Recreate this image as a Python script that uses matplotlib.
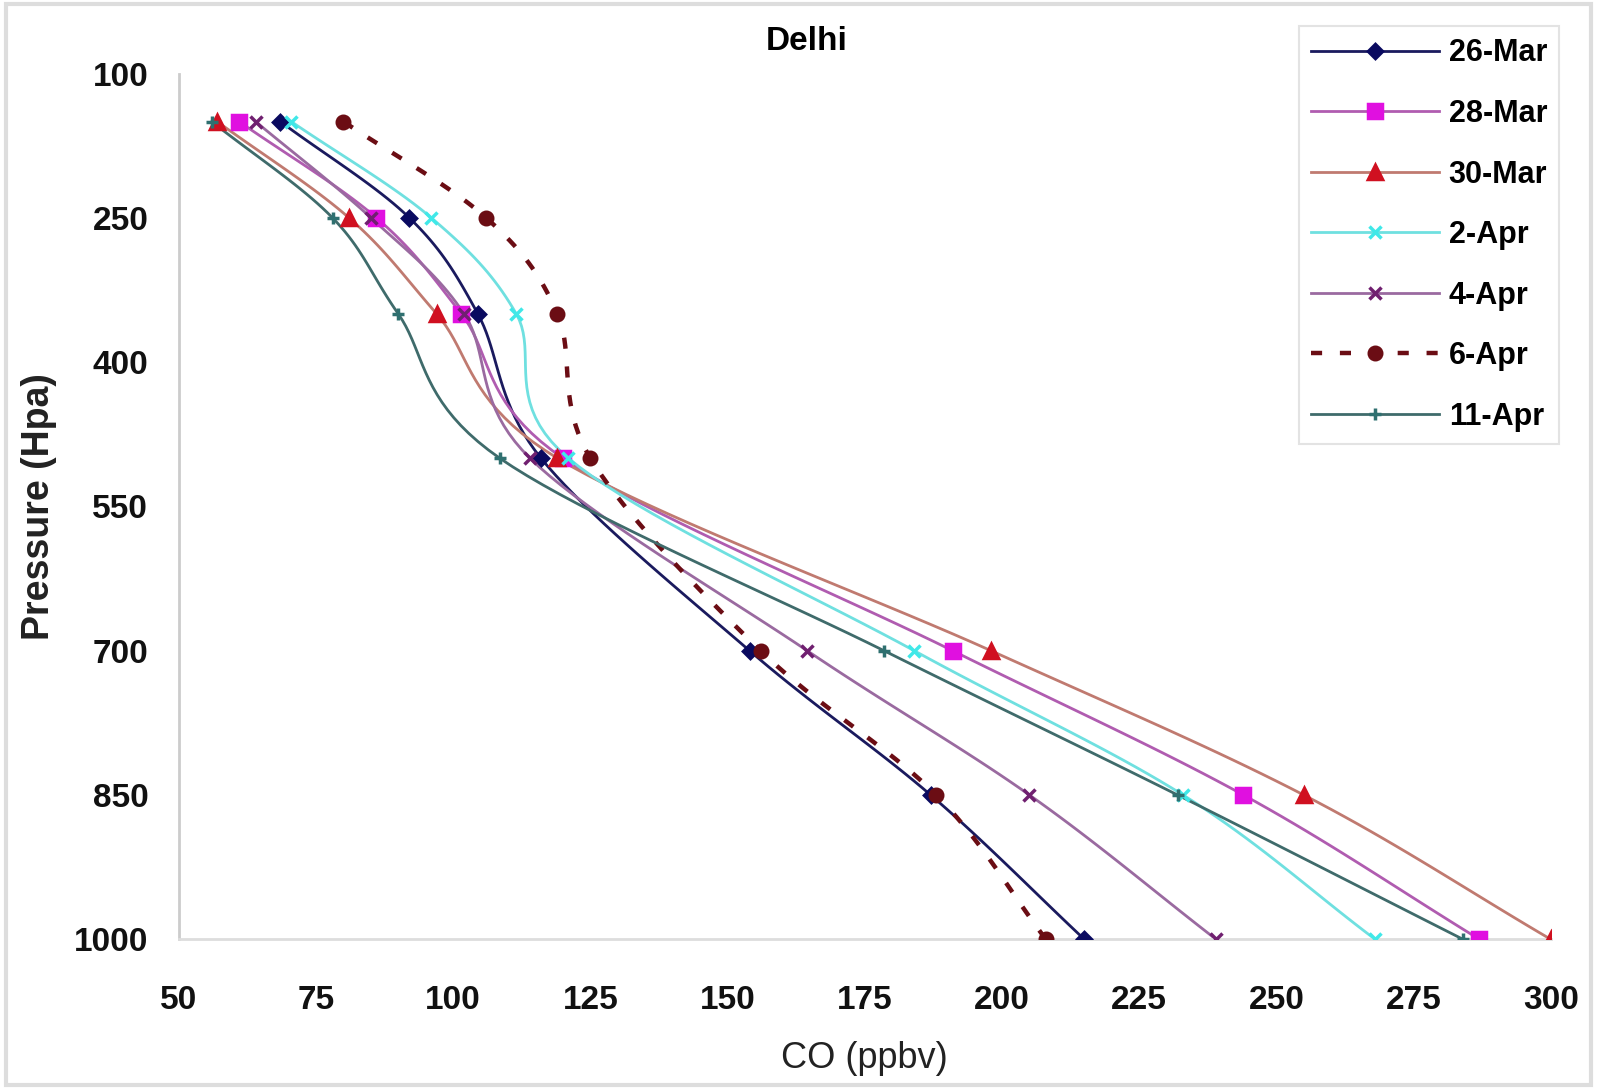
import numpy as np
import matplotlib
matplotlib.use("Agg")
import matplotlib.pyplot as plt

plt.rcParams['font.family'] = ['Liberation Sans Narrow', 'Liberation Sans', 'DejaVu Sans']

# pressure levels (hPa) and CO profiles (ppbv)
pressure = [150, 250, 350, 500, 700, 850, 1000]
labels = ["26-Mar", "28-Mar", "30-Mar", "2-Apr", "4-Apr", "6-Apr", "11-Apr"]
co_26mar = [68.5, 92, 104.5, 116, 154, 187, 215]
co_28mar = [61, 86, 101.5, 120, 191, 244, 287]
co_30mar = [57, 81, 97, 119, 198, 255, 300]
co_2apr = [70.5, 96, 111.5, 121, 184, 233, 268]
co_4apr = [64, 85, 102, 114, 164.5, 205, 239]
co_6apr = [80, 106, 119, 125, 156, 188, 208]
co_11apr = [56, 78, 90, 108.5, 178.5, 232, 284]

series = [co_26mar, co_28mar, co_30mar, co_2apr, co_4apr, co_6apr, co_11apr]
line_colors = ["#1a1a5e", "#b05cb0", "#c07a70", "#6fe0e0", "#9a6aa0", "#6b0d14", "#3f6b6b"]
marker_colors = ["#0a0a60", "#e010e0", "#d01020", "#40e8e8", "#702070", "#6b0d14", "#2f7070"]
markers = ["D", "s", "^", "x", "x", "o", "+"]
msizes = [7, 10, 10, 8, 9, 9, 9]


def smooth(x, y, n=20):
    # Catmull-Rom spline through the points, like Excel's smoothed line
    x = np.asarray(x, float)
    y = np.asarray(y, float)
    px = np.concatenate([[2 * x[0] - x[1]], x, [2 * x[-1] - x[-2]]])
    py = np.concatenate([[2 * y[0] - y[1]], y, [2 * y[-1] - y[-2]]])
    xs, ys = [], []
    t = np.linspace(0, 1, n, endpoint=False)
    for i in range(1, len(px) - 2):
        for arr, out in ((px, xs), (py, ys)):
            p0, p1, p2, p3 = arr[i - 1], arr[i], arr[i + 1], arr[i + 2]
            out.extend(0.5 * (2 * p1 + (-p0 + p2) * t
                              + (2 * p0 - 5 * p1 + 4 * p2 - p3) * t ** 2
                              + (-p0 + 3 * p1 - 3 * p2 + p3) * t ** 3))
    xs.append(x[-1])
    ys.append(y[-1])
    return np.array(xs), np.array(ys)


fig = plt.figure(figsize=(15.97, 10.89), dpi=100)
ax = fig.add_axes([0.112, 0.1375, 0.859, 0.795])

handles = []
for i, co in enumerate(series):
    sx, sy = smooth(co, pressure)
    ls = (0, (2.5, 4)) if labels[i] == "6-Apr" else "-"
    lw = 3.2 if labels[i] == "6-Apr" else 2.0
    ax.plot(sx, sy, color=line_colors[i], lw=lw, ls=ls, zorder=2)
    ax.plot(co, pressure, ls="none", marker=markers[i], ms=msizes[i],
            color=marker_colors[i], mec=marker_colors[i], mew=2.5, zorder=3)
    h, = ax.plot([], [], color=line_colors[i], lw=lw, ls=ls, marker=markers[i],
                 ms=msizes[i], mfc=marker_colors[i], mec=marker_colors[i], mew=2.5)
    handles.append(h)

ax.set_xlim(50, 300)
ax.set_ylim(1000, 100)
ax.set_xticks(np.arange(50, 301, 25))
ax.set_yticks(np.arange(100, 1001, 150))
ax.tick_params(axis="both", labelsize=24, length=0, colors="#bbbbbb")
for lab in ax.get_xticklabels() + ax.get_yticklabels():
    lab.set_fontweight("bold")
    lab.set_color("#111111")
ax.tick_params(axis="y", pad=22)
ax.tick_params(axis="x", pad=33)

for s in ["top", "right"]:
    ax.spines[s].set_visible(False)
ax.spines["left"].set_color("#cccccc")
ax.spines["bottom"].set_color("#dddddd")
ax.spines["left"].set_linewidth(2)
ax.spines["bottom"].set_linewidth(2)

ax.set_xlabel("CO (ppbv)", fontsize=26, labelpad=18, color="#222222")
ax.set_ylabel("Pressure (Hpa)", fontsize=27, fontweight="bold", labelpad=12, color="#222222")
fig.text(0.505, 0.962, "Delhi", ha="center", va="center", fontsize=24, fontweight="bold")

leg = fig.legend(handles=handles, labels=labels, loc="upper right",
                 bbox_to_anchor=(0.986, 0.99), fontsize=22, frameon=True,
                 fancybox=False, edgecolor="#dddddd", handlelength=4.2,
                 labelspacing=1.0, borderpad=0.4, handletextpad=0.3)
for t in leg.get_texts():
    t.set_fontweight("bold")
leg.get_frame().set_linewidth(1.5)

fig.patches.append(plt.Rectangle((0.004, 0.004), 0.992, 0.992, transform=fig.transFigure,
                                 fill=False, edgecolor="#dddddd", lw=3))

fig.savefig("out.png", dpi=100)
